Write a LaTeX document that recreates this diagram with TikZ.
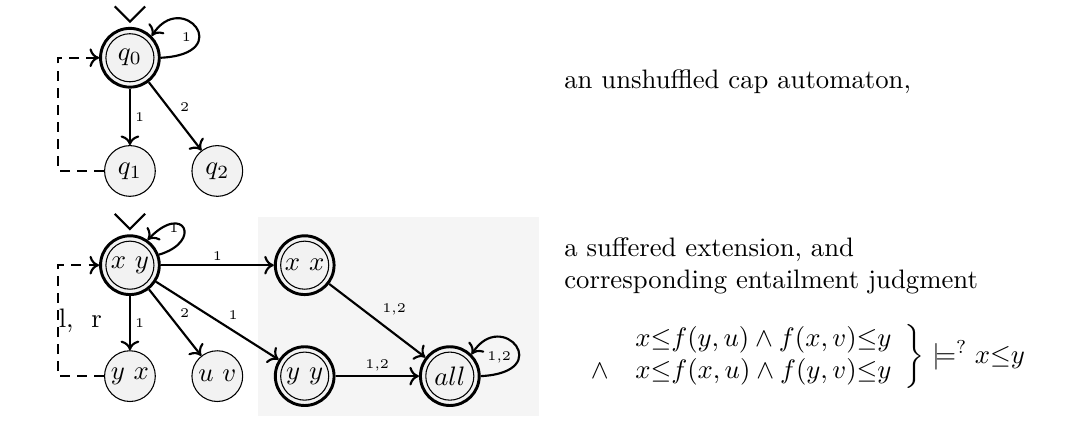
\documentclass[tikz,border=0pt]{standalone}
\usepackage{amsmath,amssymb}
\usetikzlibrary{arrows.meta}

\begin{document}
\begin{tikzpicture}[>={To[length=3.6pt,width=7pt]}, st/.style={draw, circle, fill=black!5, minimum size=19pt, inner sep=0pt}, acc/.style={st, minimum size=22pt, line width=1.1pt, path picture={\draw[line width=0.4pt] (path picture bounding box.center) circle (9pt);}}, e/.style={->, thick}, back/.style={->, thick, dash pattern=on 3.7pt off 2.7pt}, lbl/.style={font=\tiny, inner sep=1.5pt}]
	\useasboundingbox (0,0) rectangle (14.24,5.62);
	\fill[black!4] (3.39,0.15) rectangle (7.09,2.76);
	% unshuffled cap automaton
	\node[acc] (q0) at (1.71,4.86) {$q_0$};
	\node[st] (q1) at (1.71,3.37) {$q_1$};
	\node[st] (q2) at (2.86,3.37) {$q_2$};
	\coordinate (c0) at (0.76,4.86);
	\draw[thick] (q0.north) ++(-0.2,0.27) -- ++(0.2,-0.2) -- ++(0.2,0.2);
	\draw[e] (q0.east) .. controls +(1.0,0.05) and +(0.4,0.62) .. (q0.north east) node[lbl, midway, below left] {1};
	\draw[e] (q0) -- (q1) node[lbl, midway, right] {1};
	\draw[e] (q0) -- (q2) node[lbl, midway, above right] {2};
	\draw[back] (q1) -| (c0) -- (q0);
	% suffered extension
	\node[acc] (xy) at (1.71,2.13) {$x\ y$};
	\node[st] (yx) at (1.71,0.67) {$y\ x$};
	\node[st] (uv) at (2.86,0.67) {$u\ v$};
	\node[acc] (xx) at (4.01,2.13) {$x\ x$};
	\node[acc] (yy) at (4.01,0.67) {$y\ y$};
	\node[acc] (all) at (5.92,0.67) {$all$};
	\coordinate (c1) at (0.76,2.13);
	\draw[thick] (xy.north) ++(-0.2,0.27) -- ++(0.2,-0.2) -- ++(0.2,0.2);
	\draw[e] (xy.20) .. controls +(0.58,0.17) and +(0.48,0.5) .. (xy.55) node[lbl, midway, left] {1};
	\draw[e] (xy) -- (xx) node[lbl, midway, above] {1};
	\draw[e] (xy) -- (yx) node[lbl, midway, right] {1};
	\draw[e] (xy) -- (uv) node[lbl, midway, above right] {2};
	\draw[e] (xy) -- (yy) node[lbl, pos=0.55, above right] {1};
	\draw[e] (xx) -- (all) node[lbl, midway, above right] {1,2};
	\draw[e] (yy) -- (all) node[lbl, midway, above] {1,2};
	\draw[e] (all.east) .. controls +(1.0,0.05) and +(0.4,0.62) .. (all.north east) node[lbl, midway, below left] {1,2};
	\draw[back] (yx) -| (c1) node[pos=0.75, anchor=west, inner sep=0pt] {l,\ \ r} -- (xy);
	% captions
	\node[anchor=west, inner sep=0pt] (t1) at (7.42,4.54) {an unshuffled cap automaton,};
	\node[anchor=west, align=left, inner sep=0pt] (t2) at (7.42,2.12) {a suffered extension, and\\corresponding entailment judgment};
	\node[anchor=west, inner sep=0pt] (f) at (7.55,0.93) {$\left.\begin{array}{rl} & x{\leq}f(y,u)\wedge f(x,v){\leq}y\\ \wedge & x{\leq}f(x,u)\wedge f(y,v){\leq}y\end{array}\right\}\models^{?} x{\leq}y$};
\end{tikzpicture}
\end{document}
